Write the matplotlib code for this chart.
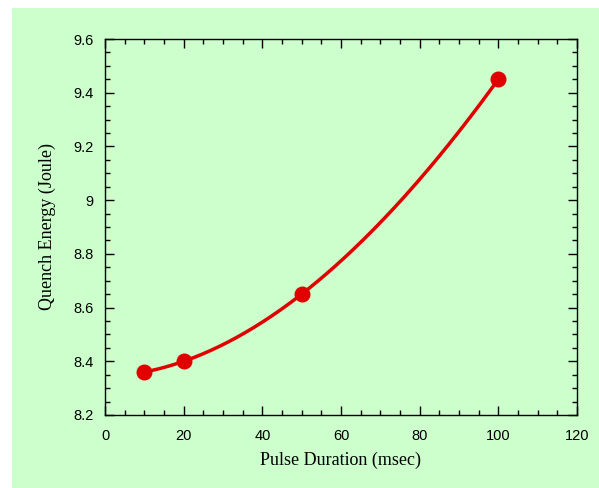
import numpy as np
import matplotlib
matplotlib.use("Agg")
import matplotlib.pyplot as plt
from matplotlib.patches import Rectangle
from matplotlib.ticker import MultipleLocator

pulse_ms = [10, 20, 50, 100]
quench_j = [8.36, 8.40, 8.65, 9.45]

fig = plt.figure(figsize=(5.99, 4.88), dpi=100, facecolor="white")
fig.patches.append(Rectangle((12/599, 0), 1 - 12/599, 1 - 8/488, transform=fig.transFigure,
                             facecolor="#ccffcc", edgecolor="none", zorder=-10))
ax = fig.add_axes([105/599, 1 - 415/488, 472/599, 376/488])
ax.set_facecolor("#ccffcc")

# smooth interpolating curve through the data points
coef = np.polyfit(pulse_ms, quench_j, 3)
xs = np.linspace(min(pulse_ms), max(pulse_ms), 200)
ax.plot(xs, np.polyval(coef, xs), color="#e00000", lw=2.5, zorder=3)
ax.plot(pulse_ms, quench_j, "o", color="#e00000", ms=10.5, zorder=4)

ax.set_xlim(0, 120)
ax.set_ylim(8.2, 9.6)
ax.xaxis.set_major_locator(MultipleLocator(20))
ax.xaxis.set_minor_locator(MultipleLocator(5))
ax.yaxis.set_major_locator(MultipleLocator(0.2))
ax.yaxis.set_minor_locator(MultipleLocator(0.05))
ax.set_yticks(np.arange(8.2, 9.61, 0.2))
ax.set_yticklabels(["8.2", "8.4", "8.6", "8.8", "9", "9.2", "9.4", "9.6"])
ax.tick_params(which="both", direction="in", top=True, right=True, width=1, color="black")
ax.tick_params(which="major", length=6.5)
ax.tick_params(which="minor", length=3.6)
ax.tick_params(axis="x", which="major", pad=10, labelsize=10.5)
ax.tick_params(axis="y", which="major", pad=8, labelsize=10.5)
for lab in ax.get_xticklabels() + ax.get_yticklabels():
    lab.set_fontfamily("Liberation Sans")
for s in ax.spines.values():
    s.set_linewidth(1)

ax.set_xlabel("Pulse Duration (msec)", fontfamily="Liberation Serif", fontsize=13, labelpad=6)
ax.set_ylabel("Quench Energy (Joule)", fontfamily="Liberation Serif", fontsize=13, labelpad=13)

fig.savefig("out.png", dpi=100)
